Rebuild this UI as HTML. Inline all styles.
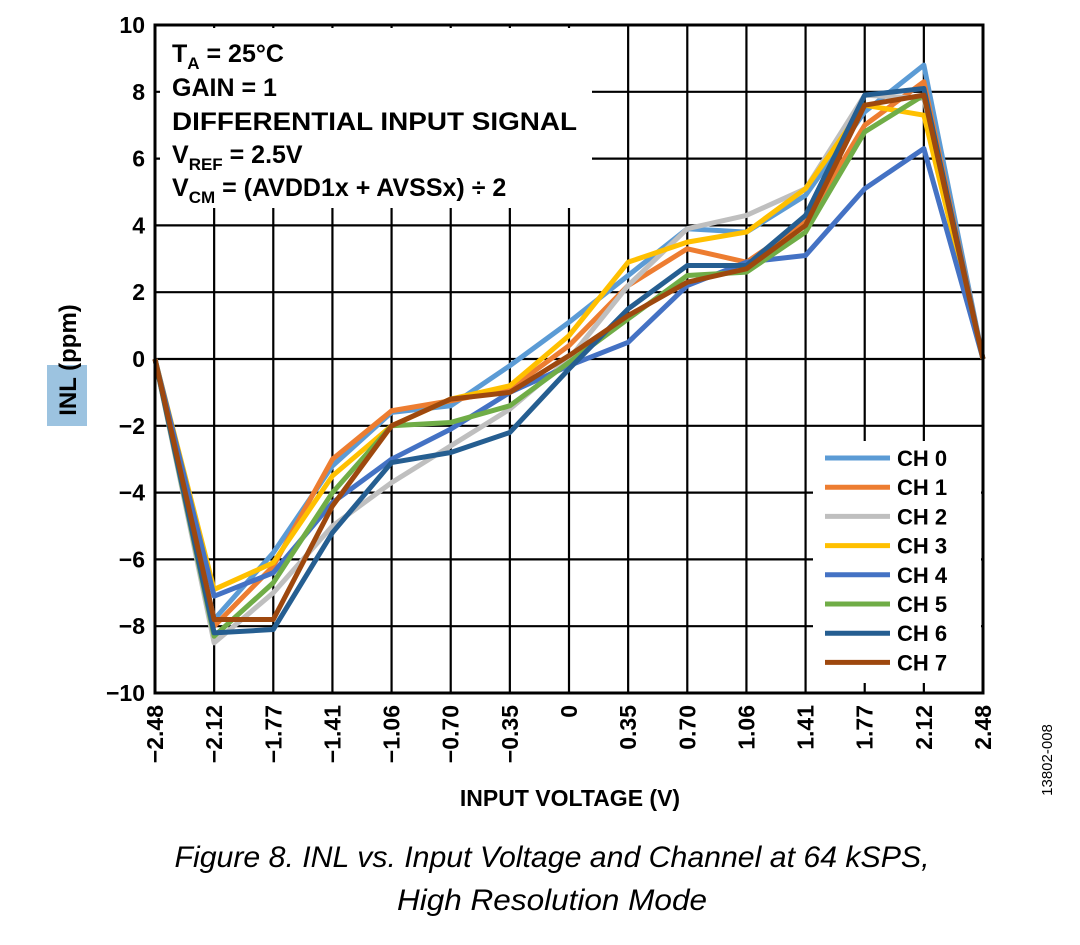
<!DOCTYPE html>
<html><head><meta charset="utf-8"><style>
body{margin:0;background:#fff;width:1080px;height:940px;overflow:hidden;font-family:"Liberation Sans",sans-serif}
</style></head><body>
<svg width="1080" height="940" xmlns="http://www.w3.org/2000/svg">
<g id="grid"></g>
<g id="series"></g>
<g id="axes"></g>
<rect x="160" y="28" width="432" height="180" fill="#fff"/>
<g font-weight="bold" font-size="25" fill="#000">
<text x="172" y="62">T<tspan font-size="17" dy="7">A</tspan><tspan dy="-7"> = 25°C</tspan></text>
<text x="172" y="96">GAIN = 1</text>
<text x="172" y="130" textLength="405" lengthAdjust="spacingAndGlyphs">DIFFERENTIAL INPUT SIGNAL</text>
<text x="172" y="163">V<tspan font-size="17" dy="7">REF</tspan><tspan dy="-7"> = 2.5V</tspan></text>
<text x="172" y="196">V<tspan font-size="17" dy="7">CM</tspan><tspan dy="-7"> = (AVDD1x + AVSSx) ÷ 2</tspan></text>
</g>
<g id="legend"></g>
<text x="570" y="806" text-anchor="middle" font-weight="bold" font-size="23">INPUT VOLTAGE (V)</text>
<rect x="47" y="365" width="40" height="61" fill="#9cc3e0"/>
<text transform="translate(76,360) rotate(-90)" text-anchor="middle" font-weight="bold" font-size="24">INL (ppm)</text>
<text transform="translate(1052,760) rotate(-90)" text-anchor="middle" font-size="15">13802-008</text>
<text x="552" y="867" text-anchor="middle" font-style="italic" font-size="30" textLength="755" lengthAdjust="spacingAndGlyphs">Figure 8. INL vs. Input Voltage and Channel at 64 kSPS,</text>
<text x="552" y="910" text-anchor="middle" font-style="italic" font-size="30" textLength="310" lengthAdjust="spacingAndGlyphs">High Resolution Mode</text>
</svg>
<script>
const categories=["−2.48","−2.12","−1.77","−1.41","−1.06","−0.70","−0.35","0","0.35","0.70","1.06","1.41","1.77","2.12","2.48"];
const yTicks=[10,8,6,4,2,0,-2,-4,-6,-8,-10];
const yTickLabels=["10","8","6","4","2","0","−2","−4","−6","−8","−10"];
const seriesNames=["CH 0","CH 1","CH 2","CH 3","CH 4","CH 5","CH 6","CH 7"];
const seriesColors=["#5b9bd5","#ed7d31","#bfbfbf","#ffc000","#4472c4","#70ad47","#255e91","#9e480e"];
const ch0=[0,-7.8,-5.8,-3.2,-1.6,-1.4,-0.2,1.1,2.5,3.9,3.8,4.9,7.4,8.8,0];
const ch1=[0,-8.0,-6.2,-3.0,-1.55,-1.25,-0.9,0.4,2.2,3.3,2.9,4.1,7.0,8.3,0];
const ch2=[0,-8.5,-7.0,-5.0,-3.7,-2.6,-1.5,0.0,2.2,3.9,4.3,5.1,7.9,7.8,0];
const ch3=[0,-6.9,-6.1,-3.5,-2.0,-1.2,-0.8,0.7,2.9,3.5,3.8,5.1,7.6,7.3,0];
const ch4=[0,-7.1,-6.4,-4.3,-3.0,-2.1,-1.0,-0.2,0.5,2.2,2.9,3.1,5.1,6.3,0];
const ch5=[0,-8.3,-6.7,-4.0,-2.0,-1.9,-1.4,-0.1,1.2,2.5,2.6,3.8,6.8,7.9,0];
const ch6=[0,-8.2,-8.1,-5.2,-3.1,-2.8,-2.2,-0.3,1.5,2.8,2.8,4.3,7.9,8.1,0];
const ch7=[0,-7.8,-7.8,-4.4,-2.0,-1.2,-1.0,0.1,1.3,2.3,2.7,4.0,7.6,7.9,0];
const allSeries=[ch0,ch1,ch2,ch3,ch4,ch5,ch6,ch7];
const NS="http://www.w3.org/2000/svg";
const X0=155,X1=983,Y0=25,Y1=693;
function xs(i){return X0+(X1-X0)*i/(categories.length-1);}
function ys(v){return Y1-(v+10)/20*(Y1-Y0);}
function mk(tag,attrs,parent){const e=document.createElementNS(NS,tag);for(const k in attrs)e.setAttribute(k,attrs[k]);parent.appendChild(e);return e;}
const grid=document.getElementById('grid'),axes=document.getElementById('axes'),ser=document.getElementById('series'),leg=document.getElementById('legend');
categories.forEach((c,i)=>{
  const l=mk('line',{x1:xs(i),x2:xs(i),y1:Y0,y2:Y1,stroke:'#000','stroke-width':2.2},grid);
  
  
  const t=mk('text',{transform:`translate(${xs(i)+8},${Y1+12}) rotate(-90)`,'text-anchor':'end','font-weight':'bold','font-size':23},axes);
  t.textContent=c;
  
  
});
yTicks.forEach((v,i)=>{
  const l=mk('line',{x1:X0,x2:X1,y1:ys(v),y2:ys(v),stroke:'#000','stroke-width':2.2},grid);
  
  
  const t=mk('text',{x:X0-10,y:ys(v)+8,'text-anchor':'end','font-weight':'bold','font-size':23},axes);
  t.textContent=yTickLabels[i];
  
  
});
const ax=mk('rect',{x:X0,y:Y0,width:X1-X0,height:Y1-Y0,fill:'none',stroke:'#000','stroke-width':3},axes);


allSeries.forEach((s,k)=>{
  const p=mk('polyline',{points:s.map((v,i)=>xs(i)+','+ys(v)).join(' '),fill:'none',stroke:seriesColors[k],'stroke-width':5,'stroke-linejoin':'round'},ser);
  
  
});
const lb=mk('rect',{x:813,y:441,width:168,height:242,fill:'#fff'},leg);


seriesNames.forEach((n,k)=>{
  const y=458+k*29.2;
  const l=mk('line',{x1:825,x2:890,y1:y,y2:y,stroke:seriesColors[k],'stroke-width':5},leg);
  
  
  const t=mk('text',{x:897,y:y+8,'font-weight':'bold','font-size':22},leg);
  t.textContent=n;
  
  
});
</script>
</body></html>
